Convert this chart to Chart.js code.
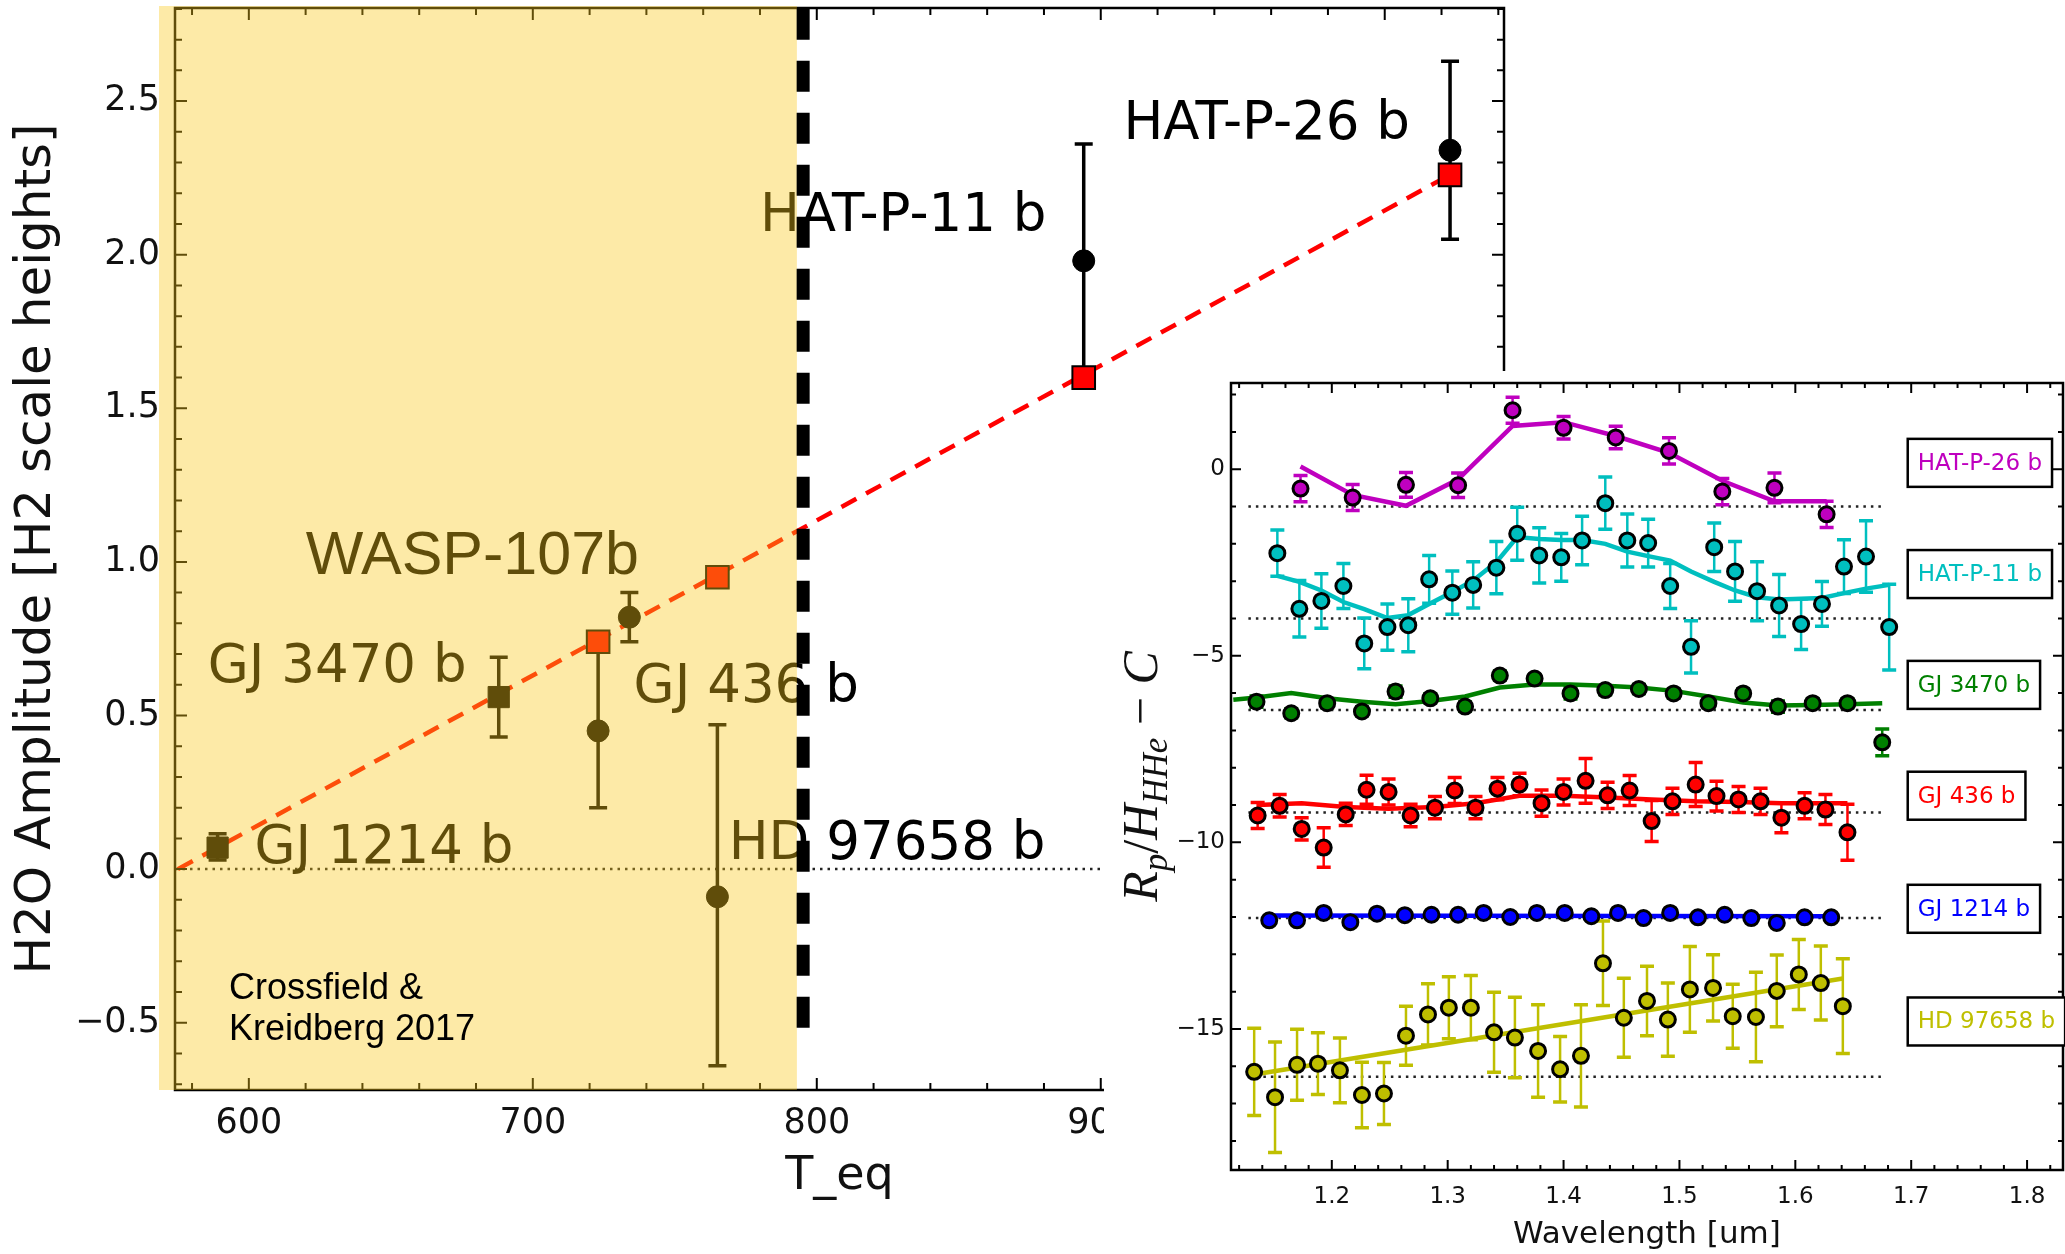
<!DOCTYPE html>
<html>
<head>
<meta charset="utf-8">
<title>H2O amplitude vs T_eq</title>
<script src="https://cdn.jsdelivr.net/npm/chart.js@4.4.1/dist/chart.umd.min.js"></script>
<style>
  html, body { margin: 0; padding: 0; background: #fff; }
  #wrap { position: relative; width: 2065px; height: 1254px; overflow: hidden; }
  #main { position: absolute; left: 0; top: 0; }
  #inset { position: absolute; left: 1104px; top: 371px; background: #fff; }
</style>
</head>
<body>
<div id="wrap">
  <canvas id="main" width="2065" height="1254"></canvas>
  <canvas id="inset" width="961" height="883"></canvas>
</div>
<script>
// ---- main panel data ----
var planets = ['GJ 1214 b', 'GJ 3470 b', 'GJ 436 b', 'WASP-107b', 'HD 97658 b', 'HAT-P-11 b', 'HAT-P-26 b'];
var teq = [589, 688, 723, 734, 765, 894, 1023];
var amp = [0.07, 0.56, 0.45, 0.82, -0.09, 1.98, 2.34];
var ampLow = [0.03, 0.43, 0.20, 0.74, -0.64, 1.60, 2.05];
var ampHigh = [0.115, 0.69, 0.74, 0.90, 0.47, 2.36, 2.63];
var markers = ['rect', 'rect', 'circle', 'circle', 'circle', 'circle', 'circle'];
var modelTeq = [723, 765, 894, 1023];
var modelAmp = [0.74, 0.95, 1.60, 2.26];
var fitTeq = [575, 1023];
var fitAmp = [0.0, 2.26];
var labelTeq = [602, 585.5, 735.5, 620, 769, 780, 908];
var labelAmp = [0.02, 0.61, 0.544, 0.96, 0.034, 2.078, 2.375];
var mainXTicks = [600, 700, 800, 900, 1000];
var mainYTicks = [-0.5, 0, 0.5, 1, 1.5, 2, 2.5];

// ---- inset spectra ----
var seriesNames = ['HAT-P-26 b', 'HAT-P-11 b', 'GJ 3470 b', 'GJ 436 b', 'GJ 1214 b', 'HD 97658 b'];
var seriesColors = ['#bf00bf', '#00bfbf', '#008000', '#ff0000', '#0000ff', '#bfbf00'];

var h26Wave = [1.173, 1.218, 1.264, 1.309, 1.356, 1.400, 1.445, 1.491, 1.537, 1.582, 1.627];
var h26Val = [-0.52, -0.76, -0.42, -0.43, 1.58, 1.11, 0.85, 0.49, -0.60, -0.50, -1.21];
var h26Err = [0.35, 0.35, 0.33, 0.33, 0.35, 0.30, 0.30, 0.35, 0.35, 0.40, 0.35];
var h26Model = [0.07, -0.69, -0.98, -0.27, 1.16, 1.26, 0.89, 0.44, -0.31, -0.86, -0.86];

var h11Wave = [1.153, 1.172, 1.191, 1.210, 1.228, 1.248, 1.266, 1.284, 1.304, 1.322, 1.342, 1.360, 1.379, 1.398, 1.416,
               1.436, 1.455, 1.473, 1.492, 1.510, 1.530, 1.548, 1.567, 1.586, 1.605, 1.623, 1.642, 1.661, 1.681];
var h11Val = [-2.25, -3.74, -3.53, -3.13, -4.67, -4.23, -4.18, -2.95, -3.31, -3.10, -2.64, -1.73, -2.31, -2.36, -1.91,
              -0.91, -1.91, -1.98, -3.13, -4.76, -2.09, -2.74, -3.27, -3.65, -4.15, -3.61, -2.61, -2.34, -4.23];
var h11Err = [0.62, 0.76, 0.73, 0.60, 0.68, 0.62, 0.71, 0.64, 0.58, 0.62, 0.70, 0.71, 0.74, 0.64, 0.65,
              0.70, 0.71, 0.64, 0.60, 0.70, 0.65, 0.80, 0.79, 0.83, 0.68, 0.60, 0.72, 0.96, 1.15];
var h11Model = [-2.86, -3.02, -3.25, -3.56, -3.75, -3.99, -3.91, -3.61, -3.29, -2.98, -2.49, -1.82, -1.87, -1.90, -1.90,
                -2.00, -2.21, -2.33, -2.45, -2.74, -3.02, -3.25, -3.43, -3.49, -3.47, -3.45, -3.32, -3.20, -3.10];

var g3470Wave = [1.135, 1.165, 1.196, 1.226, 1.255, 1.285, 1.315, 1.345, 1.375, 1.406, 1.436, 1.465, 1.495, 1.525,
                 1.555, 1.585, 1.615, 1.645, 1.675];
var g3470Val = [-6.23, -6.54, -6.27, -6.49, -5.96, -6.14, -6.36, -5.53, -5.61, -6.01, -5.92, -5.89, -6.01, -6.27,
                -6.01, -6.36, -6.27, -6.27, -7.32];
var g3470Err = [0.15, 0.12, 0.12, 0.12, 0.15, 0.12, 0.12, 0.12, 0.10, 0.15, 0.12, 0.12, 0.12, 0.12,
                0.12, 0.15, 0.12, 0.12, 0.36];
var g3470ModelWave = [1.115, 1.135, 1.165, 1.196, 1.226, 1.255, 1.285, 1.315, 1.345, 1.375, 1.406, 1.436, 1.465, 1.495,
                      1.525, 1.555, 1.585, 1.615, 1.645, 1.675];
var g3470Model = [-6.18, -6.12, -6.00, -6.14, -6.23, -6.30, -6.21, -6.09, -5.85, -5.77, -5.77, -5.80, -5.85, -5.94,
                  -6.09, -6.25, -6.33, -6.32, -6.30, -6.27];

var g436Wave = [1.136, 1.155, 1.174, 1.193, 1.212, 1.230, 1.249, 1.268, 1.289, 1.306, 1.324, 1.343, 1.362, 1.381,
                1.400, 1.419, 1.438, 1.457, 1.476, 1.494, 1.514, 1.532, 1.551, 1.570, 1.588, 1.608, 1.626, 1.645];
var g436Val = [-9.28, -9.02, -9.64, -10.14, -9.25, -8.59, -8.65, -9.28, -9.07, -8.61, -9.07, -8.56, -8.45, -8.95,
               -8.65, -8.35, -8.74, -8.61, -9.43, -8.90, -8.45, -8.76, -8.85, -8.90, -9.34, -9.02, -9.12, -9.73];
var g436Err = [0.35, 0.30, 0.30, 0.53, 0.30, 0.39, 0.35, 0.30, 0.30, 0.35, 0.30, 0.30, 0.30, 0.35,
               0.35, 0.60, 0.35, 0.40, 0.55, 0.35, 0.59, 0.40, 0.35, 0.35, 0.40, 0.35, 0.40, 0.75];
var g436ModelWave = [1.136, 1.174, 1.212, 1.249, 1.289, 1.324, 1.362, 1.400, 1.438, 1.476, 1.514, 1.551, 1.588, 1.626, 1.645];
var g436Model = [-9.00, -8.95, -9.05, -9.10, -9.05, -8.95, -8.75, -8.75, -8.80, -8.85, -8.90, -8.92, -8.95, -8.95, -8.95];

var g1214Wave = [1.146, 1.170, 1.193, 1.216, 1.239, 1.263, 1.286, 1.309, 1.331, 1.354, 1.377, 1.401, 1.424, 1.447,
                 1.469, 1.492, 1.516, 1.539, 1.562, 1.584, 1.608, 1.631];
var g1214Val = [-12.09, -12.09, -11.89, -12.14, -11.91, -11.95, -11.94, -11.94, -11.89, -12.00, -11.89, -11.89, -11.98,
                -11.89, -12.03, -11.89, -12.01, -11.94, -12.03, -12.16, -12.01, -12.01];
var g1214Err = [0.07, 0.07, 0.07, 0.07, 0.07, 0.07, 0.07, 0.07, 0.07, 0.07, 0.07, 0.07, 0.07, 0.07,
                0.07, 0.07, 0.07, 0.07, 0.07, 0.07, 0.07, 0.07];
var g1214ModelWave = [1.146, 1.631];
var g1214Model = [-11.96, -11.98];

var hdWave = [1.133, 1.151, 1.170, 1.188, 1.207, 1.226, 1.245, 1.264, 1.283, 1.301, 1.320, 1.340, 1.358, 1.378,
              1.397, 1.415, 1.434, 1.452, 1.472, 1.490, 1.509, 1.529, 1.546, 1.566, 1.584, 1.603, 1.622, 1.641];
var hdVal = [-16.15, -16.83, -15.96, -15.93, -16.11, -16.77, -16.73, -15.18, -14.61, -14.43, -14.43, -15.09, -15.23, -15.59,
             -16.08, -15.72, -13.24, -14.70, -14.25, -14.75, -13.94, -13.90, -14.66, -14.68, -13.98, -13.54, -13.77, -14.39];
var hdErr = [1.17, 1.48, 0.95, 0.83, 0.87, 0.88, 0.83, 0.79, 0.82, 0.83, 0.86, 1.07, 1.08, 1.24,
             0.88, 1.37, 1.13, 1.06, 0.93, 0.98, 1.15, 0.89, 0.86, 1.20, 0.96, 0.94, 0.99, 1.27];
var hdModelWave = [1.133, 1.641];
var hdModel = [-16.22, -13.65];

var baseLevels = [-1, -4, -6.45, -9.2, -12.03, -16.28];
var baseWave = [1.128, 1.677];
var boxLevels = [0.17, -2.81, -5.78, -8.75, -11.78, -14.80];
var boxWave = 1.697;
var insetXTicks = [1.2, 1.3, 1.4, 1.5, 1.6, 1.7, 1.8];
var insetYTicks = [-15, -10, -5, 0];

Chart.defaults.font.family = "'DejaVu Sans', sans-serif";
Chart.defaults.color = '#111';

function pts(xs, ys) {
  return xs.map(function (x, i) { return {x: x, y: ys[i]}; });
}

// keep the plot frame where it is: no extra room for edge tick labels
function noEdgePadding(s) {
  s.paddingTop = 0;
  s.paddingBottom = 0;
  s.paddingLeft = 0;
  s.paddingRight = 0;
}

function innerTicks(chart, xStep, yStep, major, minor) {
  var ctx = chart.ctx, a = chart.chartArea, xs = chart.scales.x, ys = chart.scales.y;
  var k, p;
  ctx.save();
  ctx.strokeStyle = '#000';
  ctx.lineWidth = 2;
  ctx.beginPath();
  for (k = Math.ceil(xs.min / xStep - 1e-9); k * xStep <= xs.max + 1e-9; k++) {
    p = xs.getPixelForValue(k * xStep);
    ctx.moveTo(p, a.bottom); ctx.lineTo(p, a.bottom - minor);
    ctx.moveTo(p, a.top); ctx.lineTo(p, a.top + minor);
  }
  for (k = Math.ceil(ys.min / yStep - 1e-9); k * yStep <= ys.max + 1e-9; k++) {
    p = ys.getPixelForValue(k * yStep);
    ctx.moveTo(a.left, p); ctx.lineTo(a.left + minor, p);
    ctx.moveTo(a.right, p); ctx.lineTo(a.right - minor, p);
  }
  xs.ticks.forEach(function (t) {
    p = xs.getPixelForValue(t.value);
    ctx.moveTo(p, a.bottom); ctx.lineTo(p, a.bottom - major);
    ctx.moveTo(p, a.top); ctx.lineTo(p, a.top + major);
  });
  ys.ticks.forEach(function (t) {
    p = ys.getPixelForValue(t.value);
    ctx.moveTo(a.left, p); ctx.lineTo(a.left + major, p);
    ctx.moveTo(a.right, p); ctx.lineTo(a.right - major, p);
  });
  ctx.stroke();
  ctx.lineWidth = 2.5;
  ctx.strokeRect(a.left, a.top, a.right - a.left, a.bottom - a.top);
  ctx.restore();
}

var mainExtras = {
  id: 'mainExtras',
  beforeDatasetsDraw: function (chart) {
    var ctx = chart.ctx, a = chart.chartArea, xs = chart.scales.x, ys = chart.scales.y;
    ctx.save();
    var y0 = ys.getPixelForValue(0);
    ctx.strokeStyle = '#222';
    ctx.lineWidth = 2.5;
    ctx.setLineDash([2.5, 5]);
    ctx.beginPath(); ctx.moveTo(a.left, y0); ctx.lineTo(a.right, y0); ctx.stroke();
    ctx.setLineDash([]);
    ctx.strokeStyle = '#000';
    ctx.lineWidth = 3.5;
    for (var i = 0; i < teq.length; i++) {
      var x = xs.getPixelForValue(teq[i]);
      var yl = ys.getPixelForValue(ampLow[i]);
      var yh = ys.getPixelForValue(ampHigh[i]);
      ctx.beginPath();
      ctx.moveTo(x, yl); ctx.lineTo(x, yh);
      ctx.moveTo(x - 9, yl); ctx.lineTo(x + 9, yl);
      ctx.moveTo(x - 9, yh); ctx.lineTo(x + 9, yh);
      ctx.stroke();
    }
    ctx.restore();
  },
  afterDatasetsDraw: function (chart) {
    var ctx = chart.ctx, xs = chart.scales.x, ys = chart.scales.y;
    ctx.save();
    ctx.fillStyle = '#000';
    ctx.textBaseline = 'alphabetic';
    ctx.textAlign = 'left';
    planets.forEach(function (name, i) {
      ctx.font = name === 'WASP-107b' ? '61px "Liberation Sans", Arial, sans-serif' : '53px "DejaVu Sans", sans-serif';
      ctx.fillText(name, xs.getPixelForValue(labelTeq[i]), ys.getPixelForValue(labelAmp[i]));
    });
    ctx.restore();
  },
  afterDraw: function (chart) {
    var ctx = chart.ctx, a = chart.chartArea, xs = chart.scales.x, ys = chart.scales.y;
    innerTicks(chart, 20, 0.1, 12, 7);
    ctx.save();
    // shaded region laid over the low-temperature planets
    var xr = xs.getPixelForValue(793);
    ctx.fillStyle = 'rgba(249, 200, 26, 0.385)';
    ctx.fillRect(a.left - 16, a.top - 2, xr - (a.left - 16), a.bottom - a.top + 2);
    // thick dashed divider
    var xd = xs.getPixelForValue(795.2);
    var yb = ys.getPixelForValue(-0.516);
    ctx.save();
    ctx.beginPath();
    ctx.rect(a.left, a.top, a.right - a.left, a.bottom - a.top);
    ctx.clip();
    ctx.strokeStyle = '#000';
    ctx.lineWidth = 13;
    ctx.setLineDash([31, 21]);
    ctx.beginPath(); ctx.moveTo(xd, yb); ctx.lineTo(xd, a.top - 5); ctx.stroke();
    ctx.restore();
    ctx.fillStyle = '#000';
    ctx.font = '36px "Liberation Sans", Arial, sans-serif';
    ctx.fillText('Crossfield &', xs.getPixelForValue(593), ys.getPixelForValue(-0.424));
    ctx.fillText('Kreidberg 2017', xs.getPixelForValue(593), ys.getPixelForValue(-0.557));
    ctx.restore();
  }
};

new Chart(document.getElementById('main'), {
  type: 'scatter',
  data: {
    datasets: [
      {
        label: 'measured',
        data: pts(teq, amp),
        pointStyle: markers,
        pointRadius: [15, 15, 11, 11, 11, 11, 11],
        backgroundColor: '#000',
        borderColor: '#000',
        borderWidth: 1,
        order: 1
      },
      {
        label: 'model',
        data: pts(modelTeq, modelAmp),
        pointStyle: 'rect',
        pointRadius: 16,
        backgroundColor: 'rgb(255,0,0)',
        borderColor: '#000',
        borderWidth: 2,
        order: 2
      },
      {
        type: 'line',
        label: 'trend',
        data: pts(fitTeq, fitAmp),
        borderColor: 'rgb(255,0,0)',
        borderWidth: 4.5,
        borderDash: [17, 11],
        pointRadius: 0,
        fill: false,
        order: 3
      }
    ]
  },
  options: {
    responsive: false,
    animation: false,
    devicePixelRatio: 1,
    layout: {autoPadding: false, padding: {left: 0, top: 8, right: 561, bottom: 0}},
    plugins: {legend: {display: false}, tooltip: {enabled: false}},
    scales: {
      x: {
        type: 'linear',
        min: 574,
        max: 1042,
        grid: {display: false, drawTicks: false},
        border: {display: false},
        ticks: {
          font: {size: 35},
          color: '#111',
          padding: 13,
          autoSkip: false,
          maxRotation: 0,
          callback: function (v) { return String(v); }
        },
        afterBuildTicks: function (s) { s.ticks = mainXTicks.map(function (v) { return {value: v}; }); },
        afterFit: function (s) { s.height = 164; noEdgePadding(s); },
        title: {display: true, text: 'T_eq', color: '#111', font: {size: 46}, padding: {top: 0, bottom: 49}}
      },
      y: {
        type: 'linear',
        min: -0.719,
        max: 2.803,
        grid: {display: false, drawTicks: false},
        border: {display: false},
        ticks: {
          font: {size: 35},
          color: '#111',
          padding: 15,
          autoSkip: false,
          callback: function (v) { return (v < 0 ? '\u2212' : '') + Math.abs(v).toFixed(1); }
        },
        afterBuildTicks: function (s) { s.ticks = mainYTicks.map(function (v) { return {value: v}; }); },
        afterFit: function (s) { s.width = 175; noEdgePadding(s); },
        title: {display: true, text: 'H2O Amplitude [H2 scale heights]', color: '#111', font: {size: 50}, padding: {top: 7, bottom: 0}}
      }
    }
  },
  plugins: [mainExtras]
});

// ---- inset ----
var spectra = [
  {wave: h26Wave, val: h26Val, err: h26Err, mWave: h26Wave, model: h26Model},
  {wave: h11Wave, val: h11Val, err: h11Err, mWave: h11Wave, model: h11Model},
  {wave: g3470Wave, val: g3470Val, err: g3470Err, mWave: g3470ModelWave, model: g3470Model},
  {wave: g436Wave, val: g436Val, err: g436Err, mWave: g436ModelWave, model: g436Model},
  {wave: g1214Wave, val: g1214Val, err: g1214Err, mWave: g1214ModelWave, model: g1214Model},
  {wave: hdWave, val: hdVal, err: hdErr, mWave: hdModelWave, model: hdModel}
];

var insetSets = [];
spectra.forEach(function (sp, i) {
  insetSets.push({
    label: seriesNames[i],
    data: pts(sp.wave, sp.val),
    errors: sp.err,
    pointStyle: 'circle',
    pointRadius: 7.5,
    backgroundColor: seriesColors[i],
    borderColor: '#000',
    borderWidth: 3,
    order: 1
  });
  insetSets.push({
    type: 'line',
    label: seriesNames[i] + ' model',
    data: pts(sp.mWave, sp.model),
    borderColor: seriesColors[i],
    borderWidth: 4.5,
    pointRadius: 0,
    fill: false,
    order: 2
  });
});

var insetExtras = {
  id: 'insetExtras',
  beforeDatasetsDraw: function (chart) {
    var ctx = chart.ctx, xs = chart.scales.x, ys = chart.scales.y;
    ctx.save();
    ctx.strokeStyle = '#222';
    ctx.lineWidth = 2.5;
    ctx.setLineDash([2.5, 5]);
    baseLevels.forEach(function (b) {
      var y = ys.getPixelForValue(b);
      ctx.beginPath();
      ctx.moveTo(xs.getPixelForValue(baseWave[0]), y);
      ctx.lineTo(xs.getPixelForValue(baseWave[1]), y);
      ctx.stroke();
    });
    ctx.setLineDash([]);
    chart.data.datasets.forEach(function (ds) {
      if (!ds.errors) return;
      ctx.strokeStyle = ds.backgroundColor;
      ds.data.forEach(function (p, j) {
        var x = xs.getPixelForValue(p.x);
        var yl = ys.getPixelForValue(p.y - ds.errors[j]);
        var yh = ys.getPixelForValue(p.y + ds.errors[j]);
        ctx.lineWidth = 2.5;
        ctx.beginPath(); ctx.moveTo(x, yl); ctx.lineTo(x, yh); ctx.stroke();
        ctx.lineWidth = 3.5;
        ctx.beginPath();
        ctx.moveTo(x - 7, yl); ctx.lineTo(x + 7, yl);
        ctx.moveTo(x - 7, yh); ctx.lineTo(x + 7, yh);
        ctx.stroke();
      });
    });
    ctx.restore();
  },
  afterDraw: function (chart) {
    var ctx = chart.ctx, a = chart.chartArea, xs = chart.scales.x, ys = chart.scales.y;
    innerTicks(chart, 0.02, 1, 10, 5);
    ctx.save();
    ctx.font = '23px "DejaVu Sans", sans-serif';
    ctx.textBaseline = 'middle';
    seriesNames.forEach(function (name, i) {
      var xl = xs.getPixelForValue(boxWave);
      var yc = ys.getPixelForValue(boxLevels[i]);
      var w = ctx.measureText(name).width + 20;
      ctx.fillStyle = '#fff';
      ctx.fillRect(xl, yc - 24, w, 48);
      ctx.strokeStyle = '#000';
      ctx.lineWidth = 2.5;
      ctx.strokeRect(xl, yc - 24, w, 48);
      ctx.fillStyle = seriesColors[i];
      ctx.fillText(name, xl + 10, yc + 1);
    });
    // y axis label  R_p / H_HHe - C
    var serif = '"Liberation Serif", "DejaVu Serif", serif';
    var parts = [
      ['R', 'italic 50px ' + serif, 0],
      ['p', 'italic 35px ' + serif, 10],
      ['/', '50px ' + serif, 0],
      ['H', 'italic 50px ' + serif, 0],
      ['HHe', 'italic 35px ' + serif, 10],
      [' \u2212 ', '50px ' + serif, 0],
      ['C', 'italic 50px ' + serif, 0]
    ];
    var total = 0;
    parts.forEach(function (p) { ctx.font = p[1]; total += ctx.measureText(p[0]).width; });
    ctx.translate(37, (a.top + a.bottom) / 2);
    ctx.rotate(-Math.PI / 2);
    ctx.fillStyle = '#111';
    ctx.textBaseline = 'alphabetic';
    var x = -total / 2;
    parts.forEach(function (p) {
      ctx.font = p[1];
      ctx.fillText(p[0], x, 16 + p[2]);
      x += ctx.measureText(p[0]).width;
    });
    ctx.restore();
  }
};

new Chart(document.getElementById('inset'), {
  type: 'scatter',
  data: {datasets: insetSets},
  options: {
    responsive: false,
    animation: false,
    devicePixelRatio: 1,
    layout: {autoPadding: false, padding: {left: 0, top: 12, right: 2, bottom: 0}},
    plugins: {legend: {display: false}, tooltip: {enabled: false}},
    scales: {
      x: {
        type: 'linear',
        min: 1.113,
        max: 1.831,
        grid: {display: false, drawTicks: false},
        border: {display: false},
        ticks: {
          font: {size: 23},
          color: '#111',
          padding: 13,
          autoSkip: false,
          maxRotation: 0,
          callback: function (v) { return v.toFixed(1); }
        },
        afterBuildTicks: function (s) { s.ticks = insetXTicks.map(function (v) { return {value: v}; }); },
        afterFit: function (s) { s.height = 84; noEdgePadding(s); },
        title: {display: true, text: 'Wavelength [um]', color: '#111', font: {size: 31}, padding: {top: 0, bottom: 0}}
      },
      y: {
        type: 'linear',
        min: -18.78,
        max: 2.31,
        grid: {display: false, drawTicks: false},
        border: {display: false},
        ticks: {
          font: {size: 23},
          color: '#111',
          padding: 6,
          autoSkip: false,
          callback: function (v) { return v === 0 ? '0' : '\u2212' + Math.abs(v); }
        },
        afterBuildTicks: function (s) { s.ticks = insetYTicks.map(function (v) { return {value: v}; }); },
        afterFit: function (s) { s.width = 127; noEdgePadding(s); }
      }
    }
  },
  plugins: [insetExtras]
});
</script>
</body>
</html>
